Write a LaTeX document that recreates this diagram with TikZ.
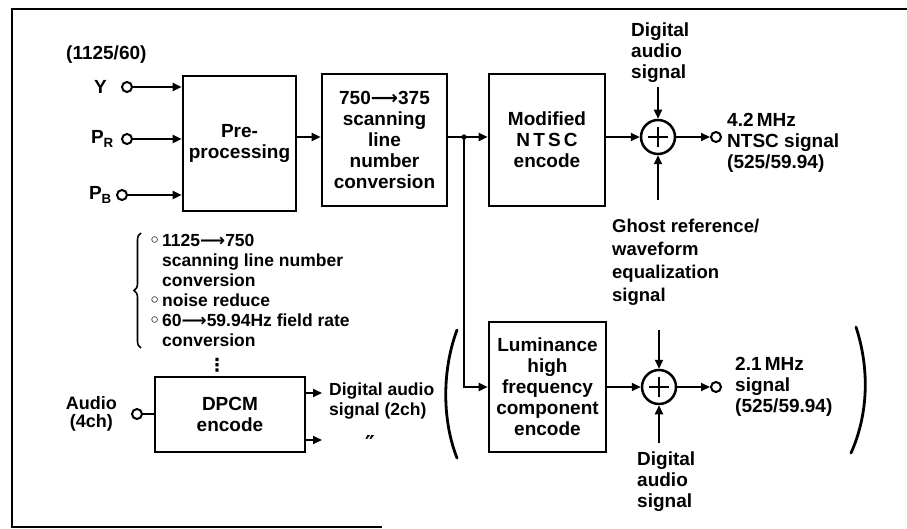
\documentclass[tikz,border=0pt]{standalone}
\usepackage{fontspec}
\setmainfont{Liberation Sans}
\newfontfamily\symfont{DejaVu Sans}
\usetikzlibrary{positioning,arrows.meta,decorations.pathreplacing}

\newcommand{\boxfont}{\fontsize{19}{21}\selectfont\bfseries}
\newcommand{\listfont}{\fontsize{17.5}{20}\selectfont\bfseries}
\newcommand{\toarr}{{\symfont ⟶}}
\newcommand{\bul}{\makebox[13pt][l]{\symfont ◦}}
\newcommand{\hang}{\hspace*{13pt}}

\begin{document}
\begin{tikzpicture}[
    x=1pt, y=-1pt,
    box/.style={draw, line width=2.6pt, align=center, inner sep=0pt, font=\boxfont},
    lbl/.style={align=left, inner sep=0pt, font=\boxfont},
    arr/.style={-{Triangle[length=9pt,width=8pt]}, line width=2pt},
    wire/.style={line width=2pt},
    term/.style={circle, draw, line width=2pt, inner sep=0pt, minimum size=10pt},
    adder/.style={circle, draw, line width=2.5pt, inner sep=0pt, minimum size=34pt,
        path picture={\draw[line width=2.2pt] (path picture bounding box.center) ++(-10pt,0) -- ++(20pt,0)
            (path picture bounding box.center) ++(0,-10pt) -- ++(0,20pt);}}
]
\useasboundingbox (0,0) rectangle (907,529);
% outer frame
\draw[line width=2pt] (907,9) -- (12,9) -- (12,527) -- (382,527);

% 1125/60 inputs
\node[lbl, anchor=west] (fmt) at (66,55) {(1125/60)};
\node[term] (yin) at (127,87) {};
\node[term] (prin) at (127,139) {};
\node[term] (pbin) at (122,195) {};
\node[lbl, left=14pt of yin] (ylbl) {Y};
\node[lbl, left=7pt of prin] (prlbl) {P\textsubscript{R}};
\node[lbl, left=4pt of pbin] (pblbl) {P\textsubscript{B}};

% video chain
\node[box, minimum width=113pt, minimum height=135pt] (pre) at (239.5,143.5) {Pre-\\processing};
\node[box, minimum width=125pt, minimum height=132pt] (conv) at (384.5,140) {750\toarr375\\scanning\\line\\number\\conversion};
\node[box, minimum width=116pt, minimum height=132pt] (ntsc) at (547,140) {Modified\\N\,T\,S\,C\\encode};
\node[box, minimum width=117pt, minimum height=130pt] (lum) at (547.5,387) {Luminance\\high\\frequency\\component\\encode};
\node[adder] (add1) at (658,137) {};
\node[adder] (add2) at (659,387) {};
\node[term] (out1) at (716,137) {};
\node[term] (out2) at (716,387) {};
\coordinate (split) at (464,137);

\draw[arr] (yin) -- (pre.west |- yin);
\draw[arr] (prin) -- (pre.west |- prin);
\draw[arr] (pbin) -- (pre.west |- pbin);
\draw[arr] (pre.east |- split) -- (conv.west |- split);
\draw[wire] (conv.east |- split) -- (split);
\fill (split) circle (2.6pt);
\draw[arr] (split) -- (ntsc.west |- split);
\draw[arr] (split) |- (lum.west);
\draw[arr] (ntsc.east |- add1) -- (add1);
\draw[arr] (add1) -- (out1);
\draw[arr] (lum) -- (add2);
\draw[arr] (add2) -- (out2);

% side inputs of the adders
\coordinate (a1top) at (658,87);
\coordinate (a1bot) at (658,200);
\coordinate (a2top) at (659,330);
\coordinate (a2bot) at (659,443);
\draw[arr] (a1top) -- (add1);
\draw[arr] (a1bot) -- (add1);
\draw[arr] (a2top) -- (add2);
\draw[arr] (a2bot) -- (add2);

\node[lbl, anchor=west] (da1) at (631,53) {Digital\\audio\\signal};
\node[lbl, anchor=west] (ntscout) at (727,143) {4.2\,MHz\\NTSC signal\\(525/59.94)};
\node[lbl, anchor=west, font=\fontsize{18.5}{23}\selectfont\bfseries] (ghost) at (612,262) {Ghost reference/\\waveform\\equalization\\signal};
\node[lbl, anchor=west] (lumout) at (735,387) {2.1\,MHz\\signal\\(525/59.94)};
\node[lbl, anchor=west] (da2) at (637,482) {Digital\\audio\\signal};

% brackets round the optional part
\draw[line width=2.8pt, line cap=round] (457,330) .. controls (442,370) and (442,420) .. (457,458);
\draw[line width=2.8pt, line cap=round] (856,327) .. controls (870,370) and (868,415) .. (851,453);

% pre-processing steps
\draw[line width=1.6pt, decorate, decoration={brace, amplitude=7pt}] (141,348) -- (141,233);
\node[lbl, anchor=west, font=\listfont] (steps) at (149,290) {\bul 1125\toarr750\\\hang scanning line number\\\hang conversion\\\bul noise reduce\\\bul 60\toarr59.94Hz field rate\\\hang conversion};
\node[inner sep=0pt, font=\symfont\fontsize{18}{18}\selectfont\bfseries] (more) at (217,365) {⋮};

% audio
\node[box, minimum width=150pt, minimum height=75pt] (dpcm) at (230,414.5) {DPCM\\encode};
\node[term] (audin) at (137,414) {};
\node[lbl, align=center, font=\fontsize{18}{18}\selectfont\bfseries, left=14pt of audin] (audlbl) {Audio\\(4ch)};
\coordinate (dout1) at (322,393);
\coordinate (dout2) at (322,440);
\draw[wire] (audin) -- (dpcm.west |- audin);
\draw[arr] (dpcm.east |- dout1) -- (dout1);
\draw[arr] (dpcm.east |- dout2) -- (dout2);
\node[lbl, anchor=west, font=\fontsize{17.5}{20}\selectfont\bfseries] (dalbl) at (329,401) {Digital audio\\signal (2ch)};
\node[inner sep=0pt, font=\symfont\fontsize{22}{22}\selectfont\bfseries] (ditto) at (370,443) {″};
\end{tikzpicture}
\end{document}
